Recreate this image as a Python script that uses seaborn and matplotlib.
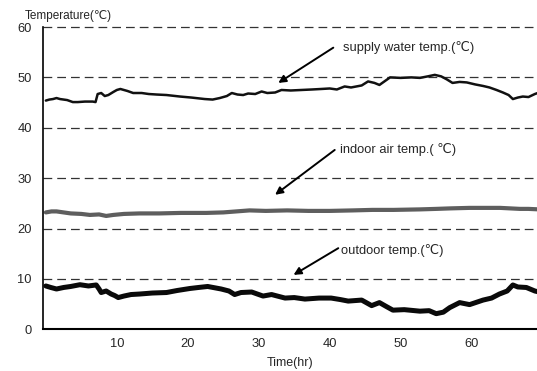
import matplotlib
matplotlib.use("Agg")
import matplotlib.pyplot as plt
import seaborn as sns
import pandas as pd

# ---- data ----
supply_hr = [0, 0.5, 1, 1.5, 2, 3, 3.8, 4.5, 5.5, 6.6, 7.0, 7.3, 7.8, 8.3, 8.8,
             9.5, 10, 10.5, 11.5, 12.3, 13.5, 14.5, 15.6, 17, 18.9, 20.5, 22.4, 23.5,
             24.5, 25.5, 26.2, 27, 27.8, 28.5, 29.5, 30.4, 31.2, 32.3, 33.2, 34.5, 36,
             37.5, 38.8, 40, 41, 42.1, 43, 44.5, 45.4, 46.3, 47, 48.5, 50, 51.5, 52.7,
             53.8, 54.8, 55.7, 56.5, 57.3, 58.3, 59.3, 60.5, 61.6, 62.5, 63.5, 64.4,
             65.2, 65.8, 66.5, 67.2, 68, 68.9, 69.5]
supply_temp = [45.4, 45.6, 45.7, 45.9, 45.7, 45.5, 45.1, 45.1, 45.2, 45.2, 45.1, 46.7,
               46.9, 46.3, 46.5, 47.1, 47.5, 47.7, 47.3, 46.9, 46.9, 46.7, 46.6, 46.5,
               46.2, 46.0, 45.7, 45.6, 45.9, 46.3, 46.9, 46.6, 46.5, 46.8, 46.7, 47.2,
               46.9, 47.0, 47.5, 47.4, 47.5, 47.6, 47.7, 47.8, 47.6, 48.2, 48.0, 48.4,
               49.2, 48.9, 48.5, 50.0, 49.9, 50.0, 49.9, 50.2, 50.5, 50.2, 49.6, 48.9,
               49.1, 49.0, 48.6, 48.3, 48.0, 47.5, 47.0, 46.5, 45.7, 46.0, 46.2, 46.1,
               46.7, 47.0]

indoor_hr = [0, 0.8, 1.5, 2.5, 3.5, 5, 6.2, 7.5, 8.5, 9.5, 11, 13.2, 16, 19, 22.6, 25,
             28.7, 31, 34, 37, 40, 43.3, 46, 49, 52.7, 55, 57, 59.7, 62, 64, 66.8, 68, 69.5]
indoor_temp = [23.2, 23.4, 23.4, 23.2, 23.0, 22.9, 22.7, 22.8, 22.5, 22.7, 22.9, 23.0,
               23.0, 23.1, 23.1, 23.2, 23.6, 23.5, 23.6, 23.5, 23.5, 23.6, 23.7, 23.7,
               23.8, 23.9, 24.0, 24.1, 24.1, 24.1, 23.9, 23.9, 23.8]

outdoor_hr = [0, 0.7, 1.5, 2.5, 3.5, 4.8, 6, 7.1, 7.5, 7.8, 8.5, 9.2, 9.7, 10.2, 11, 12,
              13.2, 15, 17, 18.5, 20.3, 21.5, 22.8, 24.7, 25.8, 26.6, 27.5, 29, 30.6,
              31.8, 33.7, 35, 36.5, 38.5, 40.2, 41.5, 42.6, 44.5, 45.9, 47, 48, 48.9,
              50.5, 52.7, 54, 55, 56, 56.9, 58.3, 59.7, 61.6, 62.8, 63.9, 65, 65.8,
              66.5, 67.7, 68.9, 69.5]
outdoor_temp = [8.6, 8.3, 8.0, 8.3, 8.5, 8.85, 8.6, 8.8, 8.0, 7.3, 7.6, 7.0, 6.7, 6.3,
                6.6, 6.9, 7.0, 7.2, 7.3, 7.7, 8.1, 8.3, 8.5, 8.0, 7.6, 6.9, 7.3, 7.4,
                6.6, 6.9, 6.2, 6.3, 6.0, 6.2, 6.2, 5.9, 5.6, 5.8, 4.7, 5.3, 4.5, 3.8,
                3.9, 3.6, 3.7, 3.1, 3.4, 4.3, 5.3, 4.9, 5.8, 6.2, 7.0, 7.6, 8.8, 8.4,
                8.3, 7.6, 7.4]

y_ticks = [0, 10, 20, 30, 40, 50, 60]
x_ticks = [10, 20, 30, 40, 50, 60]

labels = ["supply water temp.(\u2103)", "indoor air temp.( \u2103)", "outdoor temp.(\u2103)"]

# ---- plot ----
sns.set_style("white")
plt.rcParams["font.family"] = ["Liberation Sans", "DejaVu Sans"]

fig = plt.figure(figsize=(5.37, 3.71), dpi=100)
ax = fig.add_axes([0.0801, 0.1124, 0.9199, 0.8148])

for hrs, vals, col, lw in [(supply_hr, supply_temp, "#111111", 1.8),
                           (indoor_hr, indoor_temp, "#5e5e5e", 3.0),
                           (outdoor_hr, outdoor_temp, "#0a0a0a", 3.6)]:
    df = pd.DataFrame({"hr": hrs, "temp": vals})
    sns.lineplot(data=df, x="hr", y="temp", ax=ax, color=col, linewidth=lw,
                 estimator=None, sort=False)

ax.set_xlim(-0.4, 69.2)
ax.set_ylim(0, 60)
ax.set_yticks(y_ticks)
ax.set_xticks(x_ticks)
ax.tick_params(axis="both", length=0, labelsize=9.3)
ax.tick_params(axis="y", pad=8)
ax.tick_params(axis="x", pad=6)

for v in y_ticks[1:]:
    ax.axhline(v, color="#333333", lw=0.9, ls=(0, (7, 4)), zorder=0.5, clip_on=False)

for s in ["top", "right"]:
    ax.spines[s].set_visible(False)
ax.spines["left"].set_color("black")
ax.spines["left"].set_linewidth(1.2)
ax.spines["bottom"].set_color("black")
ax.spines["bottom"].set_linewidth(1.5)

ax.set_xlabel("Time(hr)", fontsize=9, labelpad=5)
ax.set_ylabel("")
fig.text(0.046, 0.958, "Temperature(\u2103)", fontsize=8.5, va="center", ha="left")

arrows = [((32.75, 48.9), (40.5, 55.9), (41.9, 55.9)),
          ((32.3, 26.7), (40.7, 35.6), (41.4, 35.6)),
          ((34.9, 10.8), (41.2, 16.1), (41.6, 15.7))]
for lab, (tip, tail, tpos) in zip(labels, arrows):
    ax.annotate("", xy=tip, xytext=tail,
                arrowprops=dict(arrowstyle="-|>", color="black", lw=1.4,
                                mutation_scale=11, shrinkA=0, shrinkB=0))
    ax.text(tpos[0], tpos[1], lab, fontsize=9.3, va="center", ha="left")

fig.savefig("out.png", dpi=100)
